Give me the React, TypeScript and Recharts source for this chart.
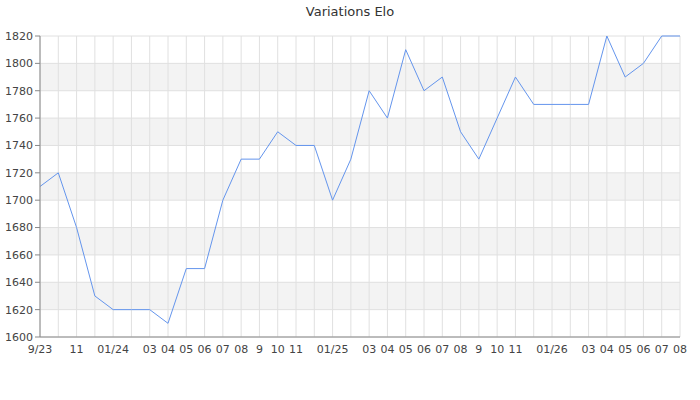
import { LineChart, Line, XAxis, YAxis, CartesianGrid } from 'recharts'

// one point per month, Sep 2023 .. Aug 2026
const months = [
  '2023-09', '2023-10', '2023-11', '2023-12',
  '2024-01', '2024-02', '2024-03', '2024-04', '2024-05', '2024-06',
  '2024-07', '2024-08', '2024-09', '2024-10', '2024-11', '2024-12',
  '2025-01', '2025-02', '2025-03', '2025-04', '2025-05', '2025-06',
  '2025-07', '2025-08', '2025-09', '2025-10', '2025-11', '2025-12',
  '2026-01', '2026-02', '2026-03', '2026-04', '2026-05', '2026-06',
  '2026-07', '2026-08'
]

const elo = [
  1710, 1720, 1680, 1630,
  1620, 1620, 1620, 1610, 1650, 1650,
  1700, 1730, 1730, 1750, 1740, 1740,
  1700, 1730, 1780, 1760, 1810, 1780,
  1790, 1750, 1730, 1760, 1790, 1770,
  1770, 1770, 1770, 1820, 1790, 1800,
  1820, 1820
]

// labels that fit on the axis, blanks where they were dropped
const tickLabels = [
  '9/23', '', '11', '',
  '01/24', '', '03', '04', '05', '06',
  '07', '08', '9', '10', '11', '',
  '01/25', '', '03', '04', '05', '06',
  '07', '08', '9', '10', '11', '',
  '01/26', '', '03', '04', '05', '06',
  '07', '08'
]

const yTicks = [1600, 1620, 1640, 1660, 1680, 1700, 1720, 1740, 1760, 1780, 1800, 1820]
const yMinorTicks = [1610, 1630, 1650, 1670, 1690, 1710, 1730, 1750, 1770, 1790, 1810]

const data = months.map((m, i) => ({ month: m, elo: elo[i] }))

const font = 'DejaVu Sans, sans-serif'
const tickStyle = { fontSize: 11, fill: '#444', fontFamily: font }

export default function App() {
  return (
    <div style={{ position: 'absolute', left: 0, top: 0, width: 700, height: 400, background: '#fff' }}>
      <div
        style={{
          position: 'absolute',
          top: 4,
          width: 700,
          textAlign: 'center',
          fontFamily: font,
          fontSize: 13,
          color: '#333'
        }}
      >
        Variations Elo
      </div>
      <LineChart width={700} height={400} data={data} margin={{ top: 36, right: 20, bottom: 33, left: 0 }}>
        <CartesianGrid stroke="#e0e0e0" horizontalFill={['#ffffff', '#f3f3f3']} fillOpacity={1} />
        <XAxis
          dataKey="month"
          scale="point"
          interval={0}
          height={30}
          tickLine={false}
          stroke="#888"
          tick={tickStyle}
          tickSize={6}
          tickFormatter={(v: string) => tickLabels[months.indexOf(v)] ?? ''}
        />
        <YAxis
          yAxisId="minor"
          width={0}
          domain={[1600, 1820]}
          ticks={yMinorTicks}
          tickFormatter={() => ''}
          axisLine={false}
          stroke="#888"
          tickSize={5}
        />
        <YAxis
          domain={[1600, 1820]}
          ticks={yTicks}
          width={40}
          stroke="#888"
          tick={tickStyle}
          tickSize={5}
          tickMargin={2}
        />
        <Line
          type="linear"
          dataKey="elo"
          stroke="#6495ed"
          strokeWidth={1}
          dot={false}
          isAnimationActive={false}
        />
      </LineChart>
    </div>
  )
}
